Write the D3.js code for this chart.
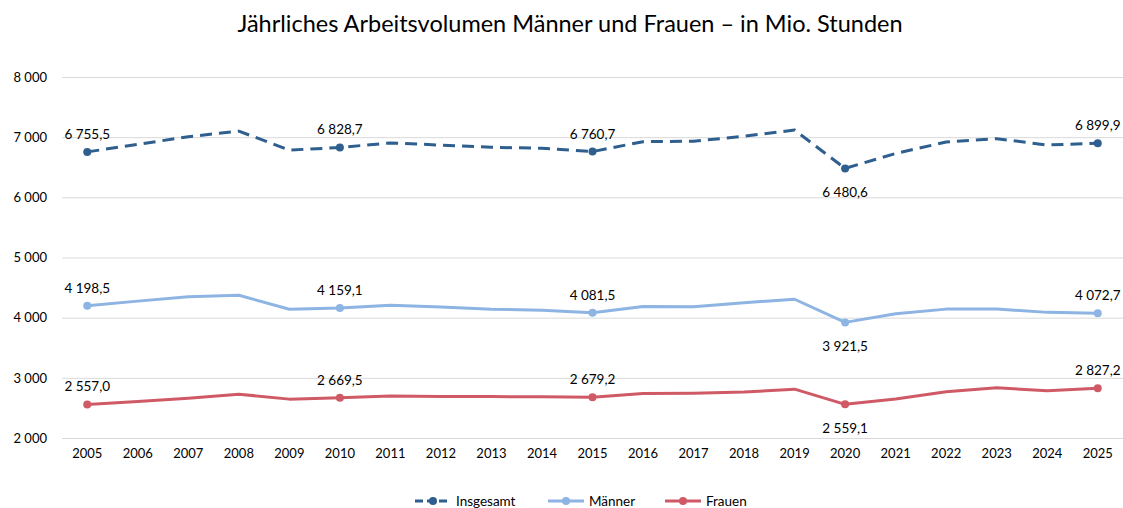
<!DOCTYPE html>
<html>
<head>
<meta charset="utf-8">
<script src="https://cdn.jsdelivr.net/npm/d3@7"></script>
<style>
  body { margin: 0; background: #fff; }
  svg { font-family: Lato, "Open Sans", sans-serif; }
</style>
</head>
<body>
<svg id="chart" width="1123" height="508"></svg>
<script>
var years = [2005,2006,2007,2008,2009,2010,2011,2012,2013,2014,2015,
             2016,2017,2018,2019,2020,2021,2022,2023,2024,2025];

var insgesamt = [6755.5,6880,7008,7100,6785,6828.7,6905,6868,6832,6815,6760.7,
                 6925,6932,7015,7118,6480.6,6730,6920,6975,6870,6899.9];
var maenner   = [4198.5,4275,4349,4372,4139,4159.1,4205,4178,4140,4125,4081.5,
                 4186,4183,4248,4306,3921.5,4064,4142,4143,4088,4072.7];
var frauen    = [2557.0,2605,2660,2728,2646,2669.5,2698,2690,2688,2686,2679.2,
                 2738,2744,2764,2812,2559.1,2648,2770,2834,2784,2827.2];

var yTicks = [2000,3000,4000,5000,6000,7000,8000];
var labelYears = [2005,2010,2015,2020,2025];
var seriesNames = ["Insgesamt","Männer","Frauen"];

var COL_TOT = "#2e5f8e", COL_M = "#8db4e2", COL_F = "#cf5a66";

var svg = d3.select("#chart");
var MARGIN_L = 62, MARGIN_R = 1123;
var Y_TOP = 77, Y_BOT = 438;

var x = d3.scaleBand().domain(years).range([MARGIN_L, MARGIN_R]);
var y = d3.scaleLinear().domain([2000, 8000]).range([Y_BOT, Y_TOP]);

var fmt = function(v) {
    var s = v.toFixed(1).replace(".", ",");
    var parts = s.split(",");
    return parts[0].replace(/\B(?=(\d{3})+(?!\d))/g, " ") + "," + parts[1];
};

// title
svg.append("text")
   .attr("x", 570).attr("y", 32)
   .attr("text-anchor", "middle")
   .style("font-size", "23.5px")
   .style("fill", "#000")
   .text("Jährliches Arbeitsvolumen Männer und Frauen – in Mio. Stunden");

// grid + y labels
var yAxis = d3.axisLeft(y).tickValues(yTicks)
    .tickSize(-(MARGIN_R - MARGIN_L))
    .tickFormat(function(d) { return d3.format(",")(d).replace(",", " "); });

var gy = svg.append("g")
    .attr("transform", "translate(" + MARGIN_L + ",0)")
    .call(yAxis);
gy.select(".domain").remove();
gy.selectAll("line").style("stroke", "#d9d9d9").style("stroke-width", 1);
gy.selectAll("text")
  .attr("x", -15)
  .style("font-size", "13px")
  .style("fill", "#000")
  .style("font-family", "Lato, sans-serif");

// x labels
var xAxis = d3.axisBottom(x).tickSize(0).tickFormat(function(d) { return d; });
var gx = svg.append("g")
    .attr("transform", "translate(0," + (Y_BOT + 8) + ")")
    .call(xAxis);
gx.select(".domain").remove();
gx.selectAll("text")
  .style("font-size", "13px")
  .style("fill", "#000")
  .style("font-family", "Lato, sans-serif");

var cx = function(d, i) { return x(years[i]) + x.bandwidth() / 2; };

function draw_series(vals, col, dashed, belowYear) {
    var line = d3.line()
        .x(function(d, i) { return cx(d, i); })
        .y(function(d) { return y(d); });

    svg.append("path")
       .datum(vals)
       .attr("d", line)
       .style("fill", "none")
       .style("stroke", col)
       .style("stroke-width", 3)
       .style("stroke-linejoin", "round")
       .style("stroke-dasharray", dashed ? "12,7" : null);

    var pts = years.map(function(yr, i) { return {yr: yr, v: vals[i], i: i}; })
                   .filter(function(p) { return labelYears.indexOf(p.yr) >= 0; });

    svg.selectAll(null)
       .data(pts).enter()
       .append("circle")
       .attr("cx", function(p) { return cx(null, p.i); })
       .attr("cy", function(p) { return y(p.v); })
       .attr("r", 4)
       .style("fill", col);

    svg.selectAll(null)
       .data(pts).enter()
       .append("text")
       .attr("x", function(p) { return cx(null, p.i); })
       .attr("y", function(p) {
           return p.yr == belowYear ? y(p.v) + 29 : y(p.v) - 13;
       })
       .attr("text-anchor", "middle")
       .style("font-size", "13.5px")
       .style("fill", "#000")
       .text(function(p) { return fmt(p.v); });
}

draw_series(frauen, COL_F, false, 2020);
draw_series(maenner, COL_M, false, 2020);
draw_series(insgesamt, COL_TOT, true, 2020);

// legend
var legendX = [415, 548, 665];
var legendCols = [COL_TOT, COL_M, COL_F];
var lg = svg.append("g").attr("transform", "translate(0,501)");
seriesNames.forEach(function(name, i) {
    var x0 = legendX[i];
    lg.append("line")
      .attr("x1", x0).attr("x2", x0 + 36)
      .attr("y1", 0).attr("y2", 0)
      .style("stroke", legendCols[i])
      .style("stroke-width", 3)
      .style("stroke-dasharray", i == 0 ? "8,4" : null);
    lg.append("circle")
      .attr("cx", x0 + 18).attr("cy", 0).attr("r", 4)
      .style("fill", legendCols[i]);
    lg.append("text")
      .attr("x", x0 + 41).attr("y", 4.5)
      .style("font-size", "13.5px")
      .style("fill", "#000")
      .text(name);
});
</script>
</body>
</html>
